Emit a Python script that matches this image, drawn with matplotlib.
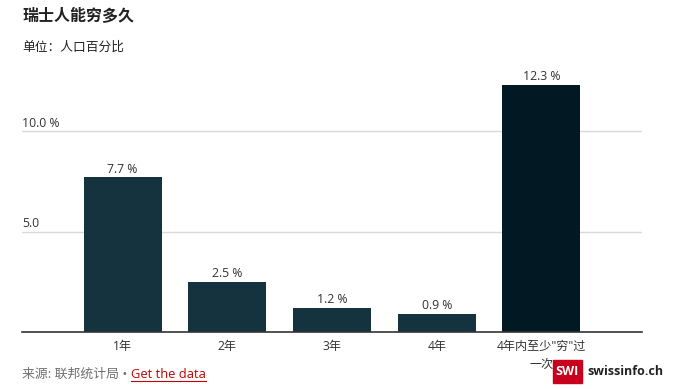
import matplotlib.pyplot as plt
from matplotlib.patches import Rectangle

plt.rcParams['font.family'] = ['Open Sans', 'Noto Sans CJK SC', 'DejaVu Sans']

categories = ['1年', '2年', '3年', '4年', '4年内至少"穷"过\n一次']
values = [7.7, 2.5, 1.2, 0.9, 12.3]
bar_labels = ['7.7 %', '2.5 %', '1.2 %', '0.9 %', '12.3 %']
ytick_vals = [5.0, 10.0]
ytick_labels = ['5.0', '10.0 %']

colors = ['#15323f'] * 4 + ['#021823']

W, H = 673, 389
fig = plt.figure(figsize=(W / 100, H / 100), dpi=100)
ax = fig.add_axes([22 / W, 57 / H, 620 / W, 261.3 / H])

x = range(len(values))
bars = ax.bar(x, values, width=0.745, color=colors, zorder=2)
ax.set_xlim(-0.96, 4.96)
ax.set_ylim(0, 13)

for b, lab in zip(bars, bar_labels):
    ax.text(b.get_x() + b.get_width() / 2, b.get_height() + 0.08, lab,
            ha='center', va='bottom', fontsize=8.8, color='#333333')

for v, lab in zip(ytick_vals, ytick_labels):
    ax.axhline(v, color='#d9d9d9', lw=1, zorder=1)
    ax.text(0, v + 0.05, lab, transform=ax.get_yaxis_transform(),
            ha='left', va='bottom', fontsize=8.8, color='#333333')

ax.set_yticks([])
ax.set_xticks(list(x))
ax.set_xticklabels(categories, fontsize=8.7, color='#333333', linespacing=1.5,
                   va='top')
ax.tick_params(axis='x', length=0, pad=6)
for s in ['top', 'right', 'left']:
    ax.spines[s].set_visible(False)
ax.spines['bottom'].set_color('#333333')
ax.spines['bottom'].set_linewidth(1.2)

# titles
fig.text(22 / W, 1 - 17 / H, '瑞士人能穷多久', fontsize=11.5, fontweight='bold',
         color='#222222', va='center', ha='left')
fig.text(22 / W, 1 - 47 / H, '单位：人口百分比', fontsize=9.2,
         color='#222222', va='center', ha='left')

# source line
src = fig.text(22 / W, 1 - 374 / H, '来源: 联邦统计局 • ', fontsize=9.3,
               color='#707070', va='center', ha='left')
fig.canvas.draw()
ext = src.get_window_extent()
link = fig.text(ext.x1 / W, 1 - 374 / H, 'Get the data', fontsize=9.3,
                color='#c00000', va='center', ha='left')
fig.canvas.draw()
lext = link.get_window_extent()
fig.add_artist(plt.Line2D([lext.x0 / W, lext.x1 / W],
                          [1 - 381 / H, 1 - 381 / H], color='#c00000', lw=0.8))

# logo
fig.add_artist(Rectangle((553 / W, 1 - 383 / H), 29 / W, 23 / H,
                         transform=fig.transFigure, color='#c8001e', zorder=5))
fig.text(567.5 / W, 1 - 371.5 / H, 'SWI', fontsize=9, fontweight='bold',
         color='white', ha='center', va='center', zorder=6)
fig.text(587 / W, 1 - 371.5 / H, 'swissinfo.ch', fontsize=9, fontweight='bold',
         color='#222222', ha='left', va='center', zorder=6,
         bbox=dict(facecolor='white', edgecolor='none', pad=1))

fig.savefig('out.png', dpi=100)
